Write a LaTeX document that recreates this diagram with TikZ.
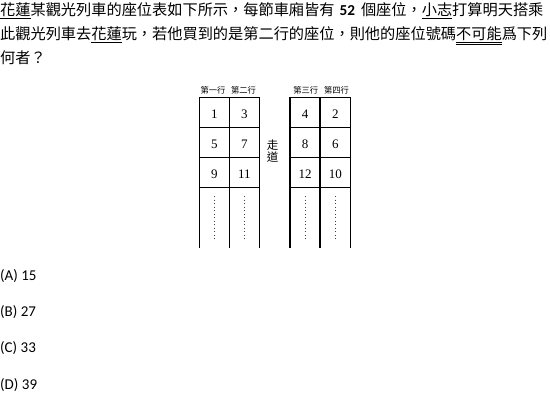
\documentclass[tikz,border=0pt]{standalone}
\usepackage{fontspec}
\setmainfont{Liberation Serif}
\newfontfamily\cjkfont{Noto Sans CJK TC}
\newfontfamily\calfont{Carlito}
\newfontfamily\numfont{Liberation Serif}
\tikzset{
  qtext/.style={anchor=base west, inner sep=0pt, font=\cjkfont\fontsize{15.2}{18}\selectfont},
  opt/.style={anchor=base west, inner sep=0pt, font=\calfont\fontsize{15}{18}\selectfont},
  hdr/.style={inner sep=0pt, font=\cjkfont\fontsize{8.3}{10}\selectfont},
  seatnum/.style={anchor=base, inner sep=0pt, font=\numfont\fontsize{13}{15}\selectfont},
  aisle/.style={inner sep=0pt, align=center, font=\cjkfont\fontsize{11.5}{12}\selectfont},
  gridline/.style={line width=1.1pt, black, line cap=rect},
  dotline/.style={line width=0.9pt, black!75, dash pattern=on 1pt off 2.5pt},
}
\begin{document}
\begin{tikzpicture}[x=1pt,y=-1pt]
\useasboundingbox[fill=white] (0,0) rectangle (550,416);
% question text
\node[qtext] (l1) at (0,15.8) {\underline{花蓮}某觀光列車的座位表如下所示，每節車廂皆有\hspace{5pt}{\calfont\bfseries 52}\hspace{6pt}個座位，\underline{小志}打算明天搭乘};
\node[qtext] (l2) at (0,39.5) {此觀光列車去\underline{花蓮}玩，若他買到的是第二行的座位，則他的座位號碼\underline{\underline{不可能}}爲下列};
\node[qtext] (l3) at (0,63) {何者？};
% headers
\node[hdr] (h1) at (213,90) {第一行};
\node[hdr] (h2) at (243.5,90) {第二行};
\node[hdr] (h3) at (305.8,90) {第三行};
\node[hdr] (h4) at (336.5,90) {第四行};
% grid
\foreach \x in {199.3,229.3,259.3,290,320,350.7}
  \draw[gridline] (\x,97.7) -- (\x,247.7);
\foreach \y in {97.7,127.7,157.7,187.7} {
  \draw[gridline] (199.3,\y) -- (259.3,\y);
  \draw[gridline] (290,\y) -- (350.7,\y);
}
% seat numbers
\node[seatnum] (s1) at (214.3,118.3) {1};
\node[seatnum] (s3) at (244.3,118.3) {3};
\node[seatnum] (s4) at (305,118.3) {4};
\node[seatnum] (s2) at (335.4,118.3) {2};
\node[seatnum] (s5) at (214.3,148.3) {5};
\node[seatnum] (s7) at (244.3,148.3) {7};
\node[seatnum] (s8) at (305,148.3) {8};
\node[seatnum] (s6) at (335.4,148.3) {6};
\node[seatnum] (s9) at (214.3,178.3) {9};
\node[seatnum] (s11) at (244.3,178.3) {11};
\node[seatnum] (s12) at (305,178.3) {12};
\node[seatnum] (s10) at (335.4,178.3) {10};
% aisle
\node[aisle] (ai) at (272.5,151.5) {走\\道};
% dotted continuation
\foreach \x in {214.3,244.3,305,335.4}
  \draw[dotline] (\x,196) -- (\x,238.5);
% options
\node[opt] (oa) at (0,280) {(A) 15};
\node[opt] (ob) at (0,316.3) {(B) 27};
\node[opt] (oc) at (0,352.7) {(C) 33};
\node[opt] (od) at (0,389) {(D) 39};
\end{tikzpicture}
\end{document}
